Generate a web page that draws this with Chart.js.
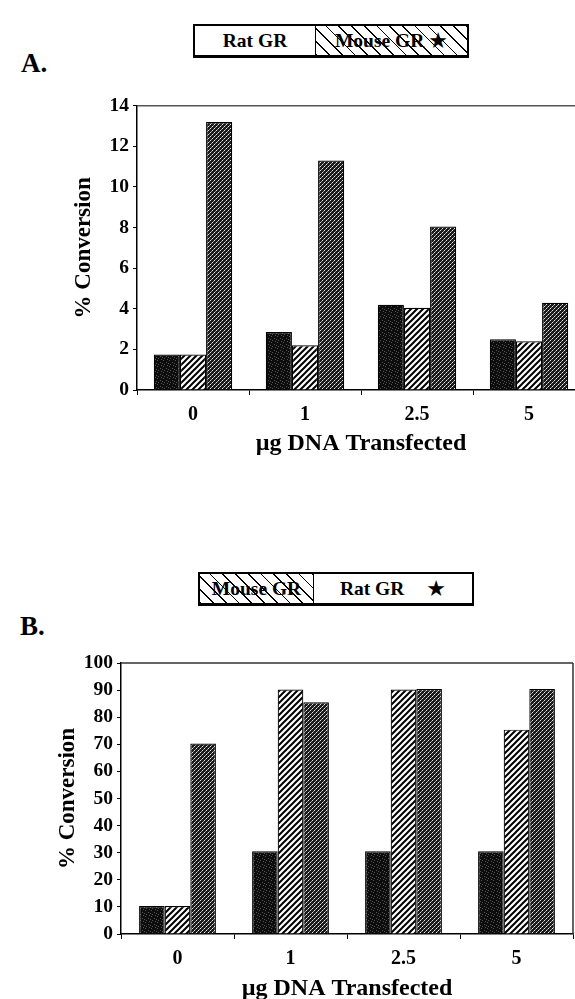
<!DOCTYPE html>
<html><head><meta charset="utf-8">
<script src="https://cdn.jsdelivr.net/npm/chart.js@4.4.1/dist/chart.umd.min.js"></script>
<style>
html,body{margin:0;padding:0;background:#fff;width:575px;height:999px;overflow:hidden;position:relative;font-family:"Liberation Serif","Times New Roman",serif;}
.lbl{position:absolute;font-weight:bold;font-size:27px;line-height:27px;color:#000;}
.legend{position:absolute;height:34px;border:2px solid #000;border-bottom-width:3px;display:flex;box-sizing:border-box;background:#fff;}
.cell{height:100%;display:flex;align-items:center;justify-content:center;font-weight:bold;font-size:19.5px;color:#000;box-sizing:border-box;}
.hatch{background:repeating-linear-gradient(45deg,#000 0 1.2px,transparent 1.2px 9px);}
.star{font-family:"DejaVu Sans",sans-serif;font-size:22px;margin-left:4px;}
canvas{position:absolute;left:0;}
</style>
</head><body>
<div class="lbl" style="left:21px;top:50px;">A.</div>
<div class="legend" style="left:193px;top:24px;width:276px;">
  <div class="cell" style="width:121px;border-right:1.5px solid #000;">Rat GR</div>
  <div class="cell hatch" style="flex:1;">Mouse GR<span class="star">★</span></div>
</div>
<div class="lbl" style="left:20px;top:613px;">B.</div>
<div class="legend" style="left:198px;top:572px;width:276px;">
  <div class="cell hatch" style="width:114px;border-right:1.5px solid #000;">Mouse GR</div>
  <div class="cell" style="flex:1;">Rat GR<span class="star" style="margin-left:22px;">★</span></div>
</div>
<canvas id="cA" width="600" height="370" style="top:90px;width:600px;height:370px;"></canvas>
<canvas id="cB" width="575" height="359" style="top:640px;width:575px;height:359px;"></canvas>
<script>
// ---- Data ----
const categories = ['0', '1', '2.5', '5'];
const xTitle = '\u00b5g DNA Transfected';
const yTitle = '% Conversion';
// Panel A
const aDark  = [1.75, 2.85, 4.2, 2.5];
const aHatch = [1.75, 2.2, 4.05, 2.4];
const aStip  = [13.2, 11.3, 8.05, 4.3];
// Panel B
const bDark  = [10.3, 30.5, 30.5, 30.5];
const bHatch = [10.3, 90.2, 90.2, 75.4];
const bStip  = [70.3, 85.5, 90.4, 90.4];

// ---- Patterns ----
function darkPattern(ctx){
  const c=document.createElement('canvas');c.width=6;c.height=6;const g=c.getContext('2d');
  g.fillStyle='#0d0d0d';g.fillRect(0,0,6,6);
  g.fillStyle='#555';
  [[1,0],[4,2],[2,4],[5,5],[0,3]].forEach(p=>g.fillRect(p[0],p[1],1,1));
  return ctx.createPattern(c,'repeat');
}
function hatchPattern(ctx){
  const s=6;const c=document.createElement('canvas');c.width=s;c.height=s;const g=c.getContext('2d');
  g.fillStyle='#fff';g.fillRect(0,0,s,s);
  g.strokeStyle='#000';g.lineWidth=2;
  g.beginPath();
  g.moveTo(-1,s+1);g.lineTo(s+1,-1);
  g.moveTo(-1,1);g.lineTo(1,-1);
  g.moveTo(s-1,s+1);g.lineTo(s+1,s-1);
  g.stroke();
  return ctx.createPattern(c,'repeat');
}
function stipPattern(ctx){
  const c=document.createElement('canvas');c.width=4;c.height=4;const g=c.getContext('2d');
  g.fillStyle='#1a1a1a';g.fillRect(0,0,4,4);
  g.fillStyle='#e8e8e8';g.fillRect(0,0,1,1);g.fillRect(2,2,1,1);
  g.fillStyle='#999';g.fillRect(1,3,1,1);g.fillRect(3,1,1,1);
  return ctx.createPattern(c,'repeat');
}

const frame = {
  id:'frame',
  afterDraw(chart, args, opts){
    const {ctx, chartArea:a} = chart;
    ctx.save();
    ctx.strokeStyle = opts.color || '#444';
    ctx.lineWidth = 1.5;
    ctx.beginPath();
    ctx.moveTo(a.left, a.top); ctx.lineTo(a.right, a.top);
    if (opts.right){ ctx.moveTo(a.right, a.top); ctx.lineTo(a.right, a.bottom); }
    ctx.stroke();
    ctx.restore();
  }
};

function makeChart(id, dark, hatch, stip, yMax, step, pad, yW, xH, catPct, rightFrame, xTitlePadB){
  const canvas = document.getElementById(id);
  const ctx = canvas.getContext('2d');
  const common = {borderColor:'#000', borderWidth:1.2, borderSkipped:'bottom'};
  return new Chart(ctx, {
    type:'bar',
    data:{
      labels:categories,
      datasets:[
        Object.assign({label:'Dark', data:dark, backgroundColor:darkPattern(ctx)}, common),
        Object.assign({label:'Hatch', data:hatch, backgroundColor:hatchPattern(ctx)}, common),
        Object.assign({label:'Stipple', data:stip, backgroundColor:stipPattern(ctx)}, common)
      ]
    },
    options:{
      responsive:false, animation:false, devicePixelRatio:1,
      layout:{padding:pad},
      datasets:{bar:{categoryPercentage:catPct, barPercentage:1.0}},
      plugins:{legend:{display:false}, tooltip:{enabled:false}, frame:{right:rightFrame, color: rightFrame ? '#333' : '#555'}},
      scales:{
        x:{
          grid:{display:true, drawOnChartArea:false, tickLength:5, color:'#000', offset:true},
          border:{color:'#000', width:1.5},
          ticks:{color:'#000', padding:8, font:{family:'Liberation Serif', weight:'bold', size:20}},
          title:{display:true, text:xTitle, color:'#000', padding:{top:0,bottom:xTitlePadB}, font:{family:'Liberation Serif', weight:'bold', size:24}},
          afterFit(s){ s.height = xH; }
        },
        y:{
          min:0, max:yMax,
          grid:{display:true, drawOnChartArea:false, tickLength:4, color:'#000'},
          border:{color:'#000', width:1.5},
          ticks:{stepSize:step, color:'#000', padding:4, font:{family:'Liberation Serif', weight:'bold', size:19.5}},
          title:{display:true, text:yTitle, color:'#000', padding:{top:0,bottom:0}, font:{family:'Liberation Serif', weight:'bold', size:23}},
          afterFit(s){ s.width = yW; }
        }
      }
    },
    plugins:[frame]
  });
}

makeChart('cA', aDark, aHatch, aStip, 14, 2, {top:14, left:70, right:15, bottom:0}, 67, 70, 0.7, false, 2);
makeChart('cB', bDark, bHatch, bStip, 100, 10, {top:23, left:54, right:2, bottom:0}, 67, 65, 0.68, true, -4);
</script>
</body></html>
